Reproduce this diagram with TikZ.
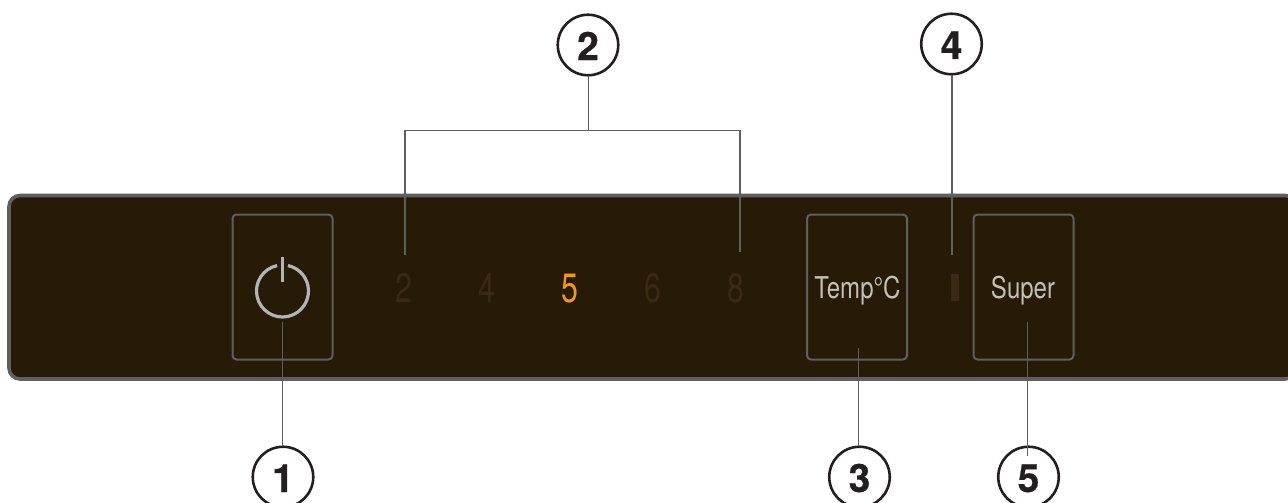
\documentclass[tikz,border=0pt]{standalone}
\usepackage{fontspec}
\setmainfont{TeX Gyre Heros}
\newfontfamily\condfont[FakeStretch=0.74]{TeX Gyre Heros}
\newfontfamily\keyfont[FakeStretch=0.8]{TeX Gyre Heros}
\newfontfamily\calloutfont[BoldFeatures={FakeBold=0.6}]{TeX Gyre Heros}
\definecolor{panelfill}{HTML}{271A07}
\definecolor{panelline}{HTML}{5F5F5F}
\definecolor{dimdigit}{HTML}{3A2A14}
\definecolor{litdigit}{HTML}{F0981E}
\definecolor{icongray}{HTML}{B4B4B4}
\definecolor{labelgray}{HTML}{C4C0B8}
\definecolor{inkblack}{HTML}{231F20}
\tikzset{
  panelbox/.style={draw=panelline,line width=3.6pt,fill=panelfill,rounded corners=11pt},
  keybox/.style={draw=panelline,line width=2pt,rounded corners=4pt,minimum width=100pt,minimum height=145pt,inner sep=0pt},
  callout/.style={circle,draw=inkblack,line width=2.6pt,fill=white,minimum size=60.5pt,inner sep=0pt,text=inkblack,
     font=\calloutfont\fontsize{39}{39}\selectfont\bfseries,text height=30pt,text depth=0pt},
  leader/.style={draw=panelline,line width=1.3pt},
  digit/.style={inner sep=0pt,font=\condfont\fontsize{41}{41}\selectfont,text=dimdigit},
  keylabel/.style={inner sep=0pt,font=\keyfont\fontsize{30}{30}\selectfont,text=labelgray},
}
\begin{document}
\begin{tikzpicture}[x=1pt,y=-1pt]
\useasboundingbox (0,0) rectangle (1288,503);
\clip (0,0) rectangle (1288,503);
\draw[panelbox] (9,195.5) rectangle (1296,379);
\node[keybox] (k1) at (282.5,287) {};
\node[keybox] (k3) at (857,287) {};
\node[keybox] (k5) at (1023.5,287) {};
% power icon
\draw[icongray,line width=3.2pt] (282.5,291) ++(258:26) arc[start angle=258,end angle=-78,radius=26];
\draw[icongray,line width=3.4pt] (282.5,257) -- (282.5,282);
% digits
\node[digit,anchor=base] (d2) at (403.5,302) {2};
\node[digit,anchor=base] (d4) at (486.5,302) {4};
\node[digit,anchor=base,text=litdigit] (d5) at (569.5,302) {5};
\node[digit,anchor=base] (d6) at (652.5,302) {6};
\node[digit,anchor=base] (d8) at (735.5,302) {8};
\node[keylabel,anchor=base] (t3) at (857.5,298) {Temp°C};
\node[keylabel,anchor=base] (t5) at (1023,298) {Super};
\fill[dimdigit] (951,274) rectangle (959,301);
% callouts
\node[callout] (c1) at (283,477) {1};
\node[callout] (c2) at (588,45) {2};
\node[callout] (c3) at (859.5,477) {3};
\node[callout] (c4) at (951.5,44) {4};
\node[callout] (c5) at (1028.5,477) {5};
% leaders
\coordinate (e1) at (282.5,322);
\coordinate (c1t) at (282.5,446);
\coordinate (c2b) at (588.5,76);
\coordinate (bm) at (588.5,130.5);
\coordinate (bl) at (405,130.5);
\coordinate (br) at (740,130.5);
\coordinate (el) at (405,255);
\coordinate (er) at (740,252);
\coordinate (c3t) at (858.7,446);
\coordinate (e3) at (858.7,348);
\coordinate (c4b) at (952,75);
\coordinate (e4) at (952,255);
\coordinate (e5) at (1027.7,322);
\coordinate (e5b) at (1027.7,456);
\draw[leader] (c1t) -- (e1);
\draw[leader] (c2b) -- (bm);
\draw[leader] (el) -- (bl) -- (br) -- (er);
\draw[leader] (c3t) -- (e3);
\draw[leader] (c4b) -- (e4);
\draw[leader] (e5b) -- (e5);
\end{tikzpicture}
\end{document}
